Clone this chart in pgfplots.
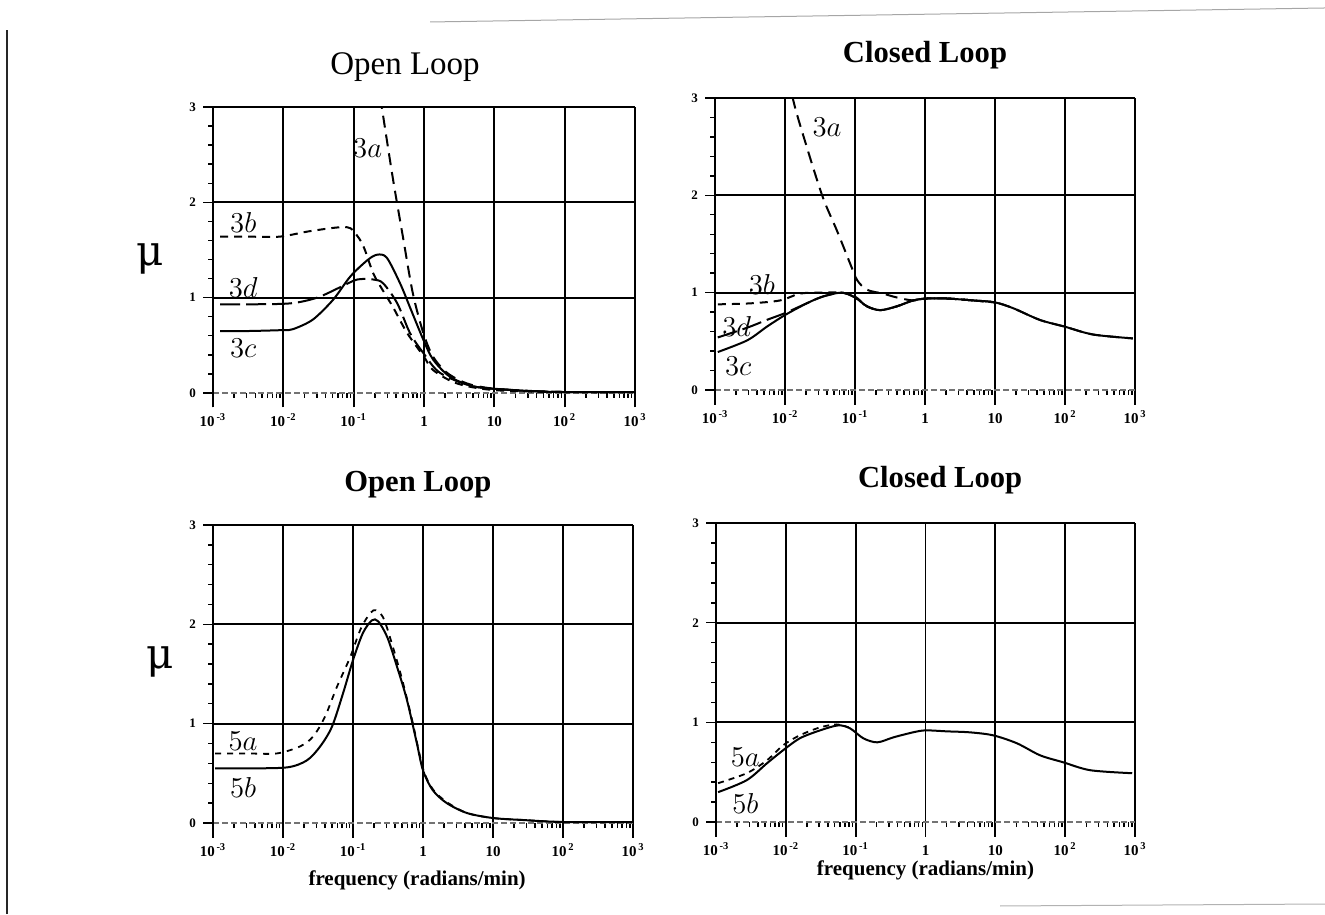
\documentclass[border=0pt]{standalone}
\usepackage{pgfplots}
\pgfplotsset{compat=1.18}
\usepackage{fontspec}
\setmainfont{Liberation Serif}
\newfontfamily\muf{DejaVu Serif}

\pgfplotsset{
  every axis/.append style={
    scale only axis,
    xmin=1e-3, xmax=1e3, ymin=-0.15, ymax=3,
    axis x line*=middle, axis y line*=left,
    hide obscured x ticks=false,
    x axis line style={black!55, line width=0.6pt, dash pattern=on 3pt off 1.5pt},
    y axis line style={black, line width=0.9pt},
    tick align=outside,
    xtick={1e-3,1e-2,1e-1,1,10,100,1000},
    xticklabels={10\textsuperscript{\,-3},10\textsuperscript{\,-2},10\textsuperscript{\,-1},1,10,10\textsuperscript{\,2},10\textsuperscript{\,3}},
    minor xtick={2e-3,3e-3,4e-3,5e-3,6e-3,7e-3,8e-3,9e-3,
                 2e-2,3e-2,4e-2,5e-2,6e-2,7e-2,8e-2,9e-2,
                 0.2,0.3,0.4,0.5,0.6,0.7,0.8,0.9,
                 2,3,4,5,6,7,8,9,
                 20,30,40,50,60,70,80,90,
                 200,300,400,500,600,700,800,900},
    ytick={1,2,3},
    extra y ticks={0},
    extra y tick style={grid=none},
    minor ytick={0.2,0.4,0.6,0.8,1.2,1.4,1.6,1.8,2.2,2.4,2.6,2.8},
    xmajorgrids, ymajorgrids,
    major grid style={black, line width=0.9pt},
    major tick length=5pt, minor tick length=2.5pt,
    tick style={solid, black, line width=0.7pt},
    xticklabel style={font=\fontsize{7.5}{8}\selectfont\bfseries, anchor=north, text height=7pt, text depth=0pt, yshift=-1pt},
    yticklabel style={font=\fontsize{6.5}{7}\selectfont\bfseries},
    /pgf/number format/assume math mode=true,
  },
}
\tikzset{
  crv/.style={black, line width=1pt, smooth, mark=none},
  lab/.style={font=\fontsize{15.5}{16}\selectfont},
}

\begin{document}
\begin{tikzpicture}
\useasboundingbox (0,0) rectangle (662.5pt,457pt);
% frame remnants of the scanned page
\draw[black!85, line width=1pt] (3.5pt,0pt) -- (3.5pt,442pt);
\draw[black!35, line width=0.5pt] (215pt,446pt) -- (662.5pt,453pt);
\draw[black!30, line width=0.5pt] (500pt,4pt) -- (662.5pt,5pt);

% ---------------- Top left: Open Loop ----------------
\begin{semilogxaxis}[at={(106.5pt,253.35pt)}, anchor=south west,
  width=211pt, height=150.15pt,
  title={Open Loop},
  title style={at={(axis description cs:0.455,1)}, anchor=center, yshift=14pt, font=\fontsize{16.5}{18}\selectfont},
  ylabel={\muf μ},
  ylabel style={rotate=-90, at={(axis description cs:-0.15,0.495)}, anchor=center, font=\fontsize{21}{22}\selectfont},
]
% 3a
\addplot[crv, dash pattern=on 6pt off 3.5pt] coordinates {
(0.2,3.5) (0.251,3.0) (0.363,2.24) (0.501,1.64) (0.692,1.05) (0.977,0.63)
(1.349,0.38) (2.138,0.21) (4.074,0.10) (8.71,0.05) (31.62,0.02) (100,0.01) (1000,0.01)};
% 3b
\addplot[crv, dash pattern=on 4pt off 3pt] coordinates {
(1.259e-3,1.64) (3.162e-3,1.64) (8.91e-3,1.64) (0.0251,1.70) (0.0794,1.74) (0.112,1.65)
(0.141,1.52) (0.191,1.25) (0.263,1.07) (0.363,0.90) (0.575,0.63) (1,0.38)
(1.349,0.24) (2.951,0.10) (10,0.03) (100,0.01) (1000,0.01)};
% 3c
\addplot[crv] coordinates {
(1.259e-3,0.65) (3.162e-3,0.65) (0.01,0.66) (0.0138,0.67) (0.0263,0.77) (0.0513,0.98)
(0.0891,1.22) (0.155,1.39) (0.214,1.45) (0.295,1.42) (0.457,1.15) (0.631,0.90)
(0.977,0.56) (1.349,0.35) (2.344,0.17) (5.012,0.07) (12.02,0.04) (31.62,0.02) (100,0.01) (1000,0.01)};
% 3d
\addplot[crv, dash pattern=on 10pt off 3pt] coordinates {
(1.259e-3,0.93) (3.162e-3,0.93) (0.0126,0.94) (0.0302,1.00) (0.0646,1.11) (0.112,1.19)
(0.191,1.19) (0.263,1.15) (0.417,0.94) (0.631,0.63) (0.977,0.42) (1.698,0.21)
(5.012,0.07) (19.95,0.03) (100,0.01) (1000,0.01)};
\node[lab] at (axis cs:0.158,2.57) {$3a$};
\node[lab] at (axis cs:2.69e-3,1.79) {$3b$};
\node[lab] at (axis cs:2.69e-3,1.11) {$3d$};
\node[lab] at (axis cs:2.69e-3,0.47) {$3c$};
\end{semilogxaxis}

% ---------------- Top right: Closed Loop ----------------
\begin{semilogxaxis}[at={(357.5pt,254.7pt)}, anchor=south west,
  width=210pt, height=153.3pt,
  title={Closed Loop},
  title style={at={(axis description cs:0.5,1)}, anchor=center, yshift=15.5pt, font=\fontsize{15.3}{17}\selectfont\bfseries},
]
% 3a
\addplot[crv, dash pattern=on 6pt off 3.5pt] coordinates {
(0.0112,3.4) (0.0129,3.0) (0.0204,2.5) (0.0347,1.98) (0.055,1.64) (0.0851,1.30)
(0.107,1.13) (0.148,1.03) (0.251,0.99) (0.398,0.95) (0.676,0.92) (1.072,0.94)
(2.042,0.94) (4.898,0.92) (10,0.90) (18.2,0.84) (43.65,0.72) (100,0.65) (251.2,0.57) (933.3,0.53)};
% 3c
\addplot[crv] coordinates {
(1.096e-3,0.39) (2.884e-3,0.51) (5.495e-3,0.65) (0.01,0.77) (0.0204,0.89) (0.0347,0.96)
(0.0646,1.00) (0.1,0.95) (0.148,0.86) (0.229,0.82) (0.398,0.86) (0.676,0.92)
(1.072,0.94) (2.042,0.94) (4.898,0.92) (10,0.90) (18.2,0.84) (43.65,0.72)
(100,0.65) (251.2,0.57) (933.3,0.53)};
% 3b
\addplot[crv, dash pattern=on 4pt off 3pt] coordinates {
(1.096e-3,0.88) (3.162e-3,0.89) (8.51e-3,0.92) (0.0162,0.99) (0.0316,1.00) (0.0646,1.00)
(0.1,0.96) (0.148,0.86) (0.229,0.82) (0.398,0.86) (0.676,0.92) (1.072,0.94)
(2.042,0.94) (4.898,0.92) (10,0.90)};
% 3d
\addplot[crv, dash pattern=on 10pt off 3pt] coordinates {
(1.096e-3,0.54) (2.884e-3,0.64) (5.495e-3,0.72) (0.01,0.79) (0.0204,0.89) (0.0347,0.96)
(0.0646,1.00) (0.1,0.95) (0.148,0.86) (0.229,0.82) (0.398,0.86) (0.676,0.92)
(1.072,0.94) (2.042,0.94) (4.898,0.92) (10,0.90)};
\node[lab] at (axis cs:0.0398,2.7) {$3a$};
\node[lab] at (axis cs:4.68e-3,1.08) {$3b$};
\node[lab] at (axis cs:2.04e-3,0.65) {$3d$};
\node[lab] at (axis cs:2.14e-3,0.24) {$3c$};
\end{semilogxaxis}

% ---------------- Bottom left: Open Loop ----------------
\begin{semilogxaxis}[at={(106.5pt,38.05pt)}, anchor=south west,
  width=210pt, height=156.45pt,
  title={Open Loop},
  title style={at={(axis description cs:0.488,1)}, anchor=center, yshift=14pt, font=\fontsize{15.3}{17}\selectfont\bfseries},
  ylabel={\muf μ},
  ylabel style={rotate=-90, at={(axis description cs:-0.126,0.562)}, anchor=center, font=\fontsize{21}{22}\selectfont},
  xlabel={frequency (radians/min)},
  xlabel style={at={(axis description cs:0.486,0)}, anchor=center, yshift=-21pt, font=\fontsize{10.5}{12}\selectfont\bfseries},
]
% 5b
\addplot[crv] coordinates {
(1.072e-3,0.55) (3.162e-3,0.55) (0.0115,0.56) (0.0219,0.63) (0.0339,0.77) (0.0501,0.97)
(0.0724,1.31) (0.1,1.64) (0.138,1.91) (0.186,2.04) (0.229,2.03) (0.309,1.87)
(0.427,1.57) (0.589,1.24) (0.813,0.81) (1,0.53) (1.38,0.33) (2.188,0.20)
(4.266,0.10) (10,0.05) (26.9,0.03) (100,0.01) (1000,0.01)};
% 5a
\addplot[crv, line width=0.9pt, dash pattern=on 3pt off 3pt] coordinates {
(1.072e-3,0.70) (3.162e-3,0.70) (8.13e-3,0.70) (0.0174,0.77) (0.0269,0.87) (0.0398,1.07)
(0.0589,1.37) (0.0912,1.67) (0.132,1.97) (0.195,2.14) (0.269,2.07) (0.372,1.77)
(0.501,1.45) (0.692,1.05) (1,0.55) (1.38,0.34) (2.188,0.21) (4.266,0.10)
(10,0.05) (26.9,0.03) (100,0.01) (1000,0.01)};
\node[lab] at (axis cs:2.69e-3,0.82) {$5a$};
\node[lab] at (axis cs:2.69e-3,0.36) {$5b$};
\end{semilogxaxis}

% ---------------- Bottom right: Closed Loop ----------------
\begin{semilogxaxis}[at={(358pt,38.5pt)}, anchor=south west,
  width=209.5pt, height=156.95pt,
  title={Closed Loop},
  title style={at={(axis description cs:0.535,1)}, anchor=center, yshift=15.5pt, font=\fontsize{15.3}{17}\selectfont\bfseries},
  xlabel={frequency (radians/min)},
  xlabel style={at={(axis description cs:0.5,0)}, anchor=center, yshift=-16.5pt, font=\fontsize{10.5}{12}\selectfont\bfseries},
]
% 5b
\addplot[crv] coordinates {
(1.072e-3,0.30) (2.754e-3,0.42) (5.37e-3,0.59) (9.12e-3,0.72) (0.0158,0.84) (0.0309,0.92)
(0.0562,0.97) (0.0832,0.94) (0.129,0.84) (0.204,0.80) (0.347,0.85) (0.661,0.90)
(1,0.92) (2.042,0.91) (4.365,0.90) (9.333,0.87) (20.42,0.79) (43.65,0.67)
(93.33,0.60) (229.1,0.52) (912,0.49)};
% 5a
\addplot[crv, line width=0.9pt, dash pattern=on 3pt off 2.5pt] coordinates {
(1.072e-3,0.39) (2.754e-3,0.49) (5.37e-3,0.62) (9.12e-3,0.77) (0.0158,0.87) (0.0309,0.95)
(0.0537,0.98) (0.0794,0.95)};
\node[lab] at (axis cs:2.63e-3,0.65) {$5a$};
\node[lab] at (axis cs:2.63e-3,0.19) {$5b$};
\end{semilogxaxis}
\end{tikzpicture}
\end{document}
